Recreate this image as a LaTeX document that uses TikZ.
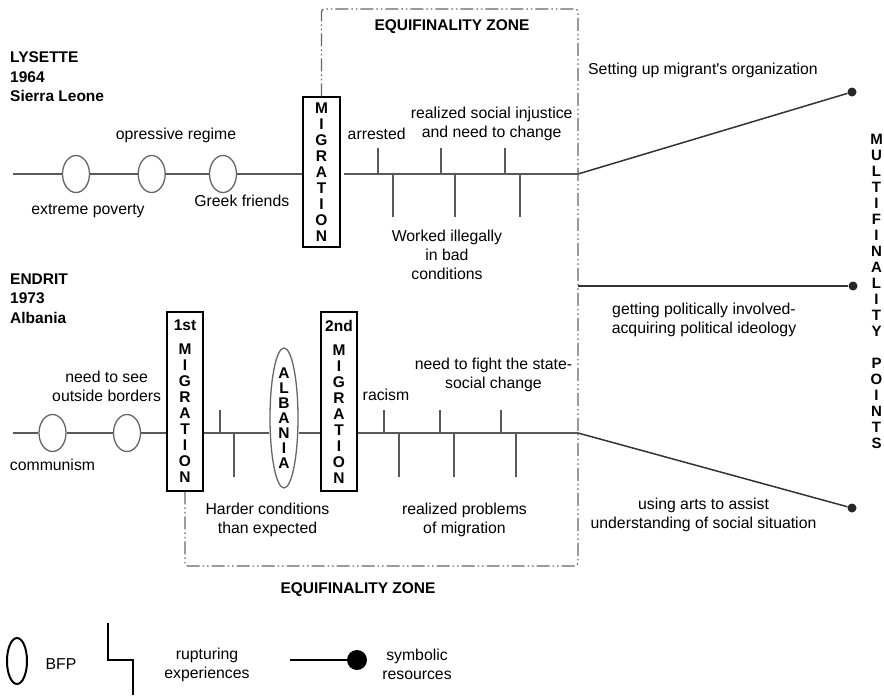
\documentclass[tikz,border=0pt]{standalone}
\usepackage{fontspec}
\setmainfont{Liberation Sans}
\newfontfamily\plainq{Liberation Sans}
\usetikzlibrary{shapes.geometric}
\begin{document}
\begin{tikzpicture}[x=1pt,y=-1pt,
  tl/.style={draw=black!65, line width=1.8pt},
  tickline/.style={draw=black!65, line width=1.8pt},
  bfp/.style={ellipse, draw=black!60, line width=1.3pt, minimum width=27pt, minimum height=37pt, inner sep=0pt},
  migbox/.style={draw=black, line width=1.1pt, inner sep=0pt, align=center, font=\bfseries\fontsize{15.5}{16}\selectfont},
  zone/.style={draw=black!60, line width=1.3pt, dash pattern=on 13pt off 3pt on 1.5pt off 3pt on 1.5pt off 3pt, rounded corners=3pt},
  txt/.style={inner sep=0pt, align=center, font=\fontsize{15.8}{19}\selectfont},
  btxt/.style={inner sep=0pt, align=left, font=\bfseries\fontsize{15.5}{19.5}\selectfont},
  vtxt/.style={inner sep=0pt, align=center, font=\bfseries\fontsize{15}{16}\selectfont},
  res/.style={draw=black!80, line width=1.5pt},
  dotnode/.style={circle, fill=black!85, inner sep=0pt, minimum size=9pt}
]
\path[fill=white] (0,0) rectangle (884,696);

% ---------- LYSETTE ----------
\node[btxt, anchor=north west] (lys) at (10,51.5) {LYSETTE\\1964\\Sierra Leone};
\coordinate (l1s) at (13,174);
\node[bfp] (e1) at (76,174) {};
\node[bfp] (e2) at (151.7,174) {};
\node[bfp] (e3) at (223,174) {};
\node[migbox, minimum width=37pt, minimum height=150pt] (mig1) at (321.5,172) {M\\I\\G\\R\\A\\T\\I\\O\\N};
\coordinate (z1) at (578,174);
\draw[tl] (l1s) -- (e1);
\draw[tl] (e1) -- (e2);
\draw[tl] (e2) -- (e3);
\draw[tl] (e3) -- (mig1.west |- e3);
\draw[tl] ([xshift=3pt]mig1.east |- z1) -- (z1);
\foreach \x in {378,441,505} \draw[tickline] (\x,174) -- ++(0,-26);
\foreach \x in {393,455,520} \draw[tickline] (\x,174) -- ++(0,43);

\node[txt] (t1) at (176,135) {opressive regime};
\node[txt] (t2) at (88,211) {extreme poverty};
\node[txt] (t3) at (241.8,201) {Greek friends};
\node[txt] (t4) at (376.7,134) {arrested};
\node[txt] (t5) at (491.7,123.5) {realized social injustice\\and need to change};
\node[txt] (t6) at (447,255) {Worked illegally\\in bad\\conditions};

% ---------- ENDRIT ----------
\node[btxt, anchor=north west] (end) at (10,273.5) {ENDRIT\\1973\\Albania};
\coordinate (l2s) at (13,433);
\node[bfp] (f1) at (52.5,433) {};
\node[bfp] (f2) at (127,433) {};
\node[migbox, minimum width=36pt, minimum height=179pt] (mig2a) at (185,401.5) {1st\\[8pt]M\\I\\G\\R\\A\\T\\I\\O\\N};
\node[ellipse, draw=black!60, line width=1.3pt, minimum width=28pt, minimum height=140pt, inner sep=0pt] (alb) at (284,418) {};
\node[vtxt, font=\bfseries\fontsize{15.5}{15}\selectfont] (albt) at (alb) {A\\L\\B\\A\\N\\I\\A};
\node[migbox, minimum width=36pt, minimum height=179pt] (mig2b) at (339,401.5) {2nd\\[8pt]M\\I\\G\\R\\A\\T\\I\\O\\N};
\coordinate (z3) at (578,433);
\draw[tl] (l2s) -- (f1);
\draw[tl] (f1) -- (f2);
\draw[tl] (f2) -- (mig2a.west |- f2);
\draw[tl] (mig2a.east |- f2) -- (alb.west |- f2);
\draw[tl] (alb.east |- f2) -- (mig2b.west |- f2);
\draw[tl] (mig2b.east |- f2) -- (z3);
\foreach \x in {220,384,440,501} \draw[tickline] (\x,433) -- ++(0,-23);
\foreach \x in {234,399,454,516} \draw[tickline] (\x,433) -- ++(0,44);

\node[txt] (u1) at (106.7,386.5) {need to see\\outside borders};
\node[txt] (u2) at (52.5,465) {communism};
\node[txt] (u3) at (386,395) {racism};
\node[txt] (u4) at (493.5,374.5) {need to fight the state-\\social change};
\node[txt] (u5) at (267.5,520) {Harder conditions\\than expected};
\node[txt] (u6) at (464.5,520) {realized problems\\of migration};

% ---------- equifinality zone ----------
\draw[zone] (mig1.north) -- (mig1.north |- 0,9) -- (578,9) -- (578,566) -- (mig2a.south |- 0,566) -- (mig2a.south);
\node[btxt] (ez1) at (452,27) {EQUIFINALITY ZONE};
\node[btxt] (ez2) at (358,590) {EQUIFINALITY ZONE};

% ---------- multifinality ----------
\coordinate (z2) at (578,286);
\node[dotnode] (d1) at (852,92) {};
\node[dotnode] (d2) at (853,286) {};
\node[dotnode] (d3) at (852,508) {};
\draw[res] (z1) -- (d1);
\draw[res] (z2) -- (d2);
\draw[res] (z3) -- (d3);
\node[txt] (r1) at (703,70) {Setting up migrant{\plainq'}s organization};
\node[txt] (r2) at (704,320) {getting politically involved-\\acquiring political ideology};
\node[txt] (r3) at (703.5,514.5) {using arts to assist\\understanding of social situation};
\node[vtxt] (mp) at (876.5,291) {M\\U\\L\\T\\I\\F\\I\\N\\A\\L\\I\\T\\Y\\[16pt]P\\O\\I\\N\\T\\S};

% ---------- legend ----------
\node[ellipse, draw=black, line width=2pt, minimum width=20pt, minimum height=46pt, inner sep=0pt] (lg1) at (17,661) {};
\node[txt] (lg1t) at (61,664) {BFP};
\draw[draw=black, line width=2.5pt] (108,623) -- (108,660) -- (133,660) -- (133,695);
\node[txt] (lg2t) at (207,664.5) {rupturing\\experiences};
\coordinate (ls) at (290,660);
\node[circle, fill=black, inner sep=0pt, minimum size=20pt] (lsd) at (357,660) {};
\draw[draw=black, line width=2.5pt] (ls) -- (lsd);
\node[txt] (lg3t) at (417,664.5) {symbolic\\resources};
\end{tikzpicture}
\end{document}
